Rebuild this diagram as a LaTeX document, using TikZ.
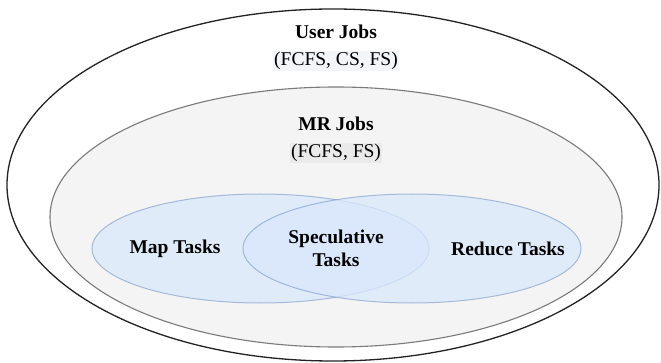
\documentclass[tikz,border=0pt]{standalone}
\usepackage{fontspec}
\setmainfont{Liberation Serif}
\usetikzlibrary{shapes.geometric}
\definecolor{outerline}{HTML}{222222}
\definecolor{mrfill}{HTML}{F4F4F4}
\definecolor{mrline}{HTML}{7A7A7A}
\definecolor{taskfill}{HTML}{DAE8FC}
\definecolor{taskline}{HTML}{6C8EBF}
\definecolor{hlA}{HTML}{F3F5F8}
\definecolor{hlB}{HTML}{EAEAEA}
\tikzset{
  ell/.style={ellipse, inner sep=0pt, outer sep=0pt},
  title/.style={font=\fontsize{19.5}{22}\selectfont\bfseries, inner sep=0pt},
  sub/.style={font=\fontsize{19.5}{22}\selectfont, inner sep=1pt},
  task/.style={ell, fill=taskfill, fill opacity=0.75, draw=taskline, draw opacity=0.55, line width=1pt},
}
\begin{document}
\begin{tikzpicture}[x=1pt,y=-1pt]
\useasboundingbox (0,0) rectangle (661,363);
\node[ell, draw=outerline, line width=1.3pt, minimum width=652pt, minimum height=352pt] (outer) at (333,185) {};
\node[ell, draw=mrline, fill=mrfill, line width=1.1pt, minimum width=572pt, minimum height=260pt] (mr) at (336,217) {};
\node[task, minimum width=337pt, minimum height=109pt] (map) at (260.5,248.5) {};
\node[task, minimum width=338pt, minimum height=109pt] (reduce) at (412,248.5) {};
\node[title] (ujt) at (336,32) {User Jobs};
\node[sub, fill=hlA] (ujs) at (336,61) {(FCFS, CS, FS)};
\node[title] (mrt) at (336,124) {MR Jobs};
\node[sub, fill=hlB] (mrs) at (336,153) {(FCFS, FS)};
\node[title] (mapt) at (175,249) {Map Tasks};
\node[title, align=center, font=\fontsize{19.5}{23}\selectfont\bfseries] (spec) at (336,248) {Speculative\\Tasks};
\node[title] (redt) at (508,249) {Reduce Tasks};
\end{tikzpicture}
\end{document}
